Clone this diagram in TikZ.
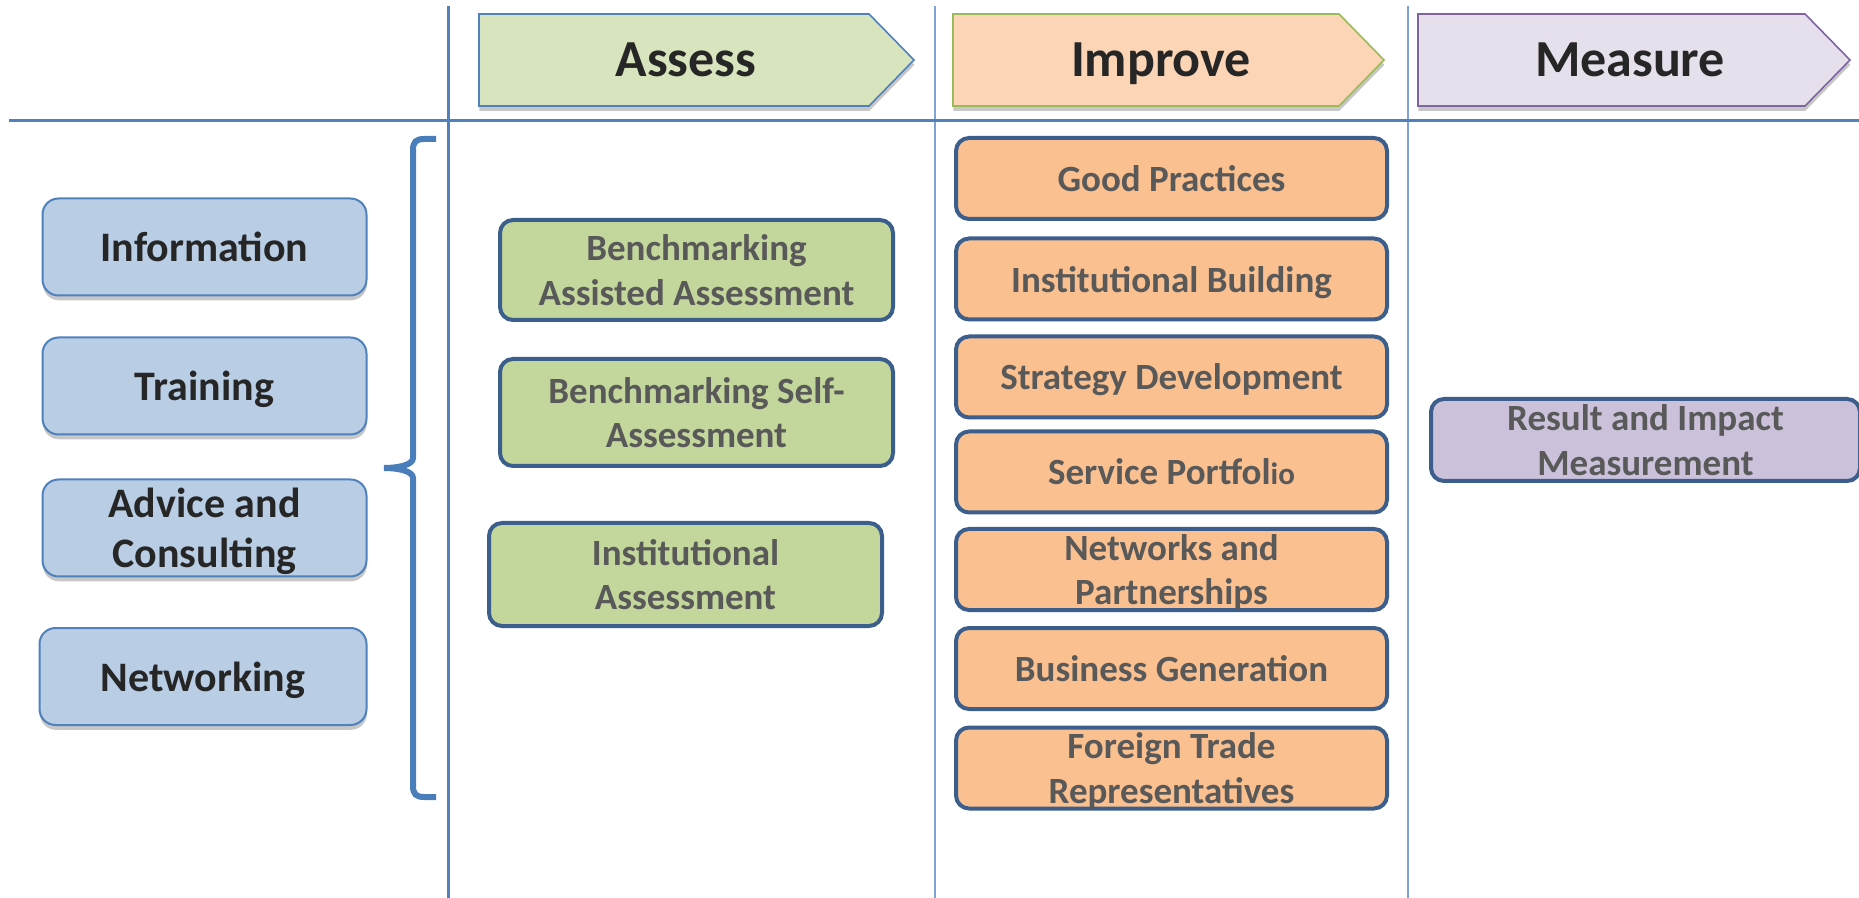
\documentclass[tikz,border=0pt]{standalone}
\usepackage{fontspec}
\setmainfont{Carlito}
\usetikzlibrary{shadows}

\definecolor{ruleblue}{HTML}{4F81BD}
\definecolor{rulethin}{HTML}{7FA3D3}
\definecolor{bracecol}{HTML}{4A7EBB}
\definecolor{boxline}{HTML}{3B5E8C}
\definecolor{darktext}{HTML}{262626}
\definecolor{graytext}{HTML}{595959}
\definecolor{assessfill}{HTML}{D8E4BD}
\definecolor{improvefill}{HTML}{FBD5B5}
\definecolor{improveline}{HTML}{9BBB59}
\definecolor{measurefill}{HTML}{E5E0EC}
\definecolor{measureline}{HTML}{8064A2}
\definecolor{bluefill}{HTML}{B9CDE5}
\definecolor{greenfill}{HTML}{C3D69B}
\definecolor{orangefill}{HTML}{FAC090}
\definecolor{purplefill}{HTML}{CCC1DA}

\begin{document}
\begin{tikzpicture}[x=0.5pt,y=-0.5pt,
  softshadow/.style={drop shadow={shadow xshift=0.2pt,shadow yshift=-2.4pt,opacity=0.22,fill=black}},
  rulethick/.style={draw=ruleblue,line width=1.5pt},
  rulefine/.style={draw=rulethin,line width=0.6pt},
  headshape/.style={line width=0.8pt,softshadow},
  headtext/.style={anchor=base,text=darktext,font={\bfseries\fontsize{26}{31}\selectfont}},
  bluebox/.style={draw=ruleblue,fill=bluefill,line width=1pt,rounded corners=8pt,
    minimum width=162pt,minimum height=48.5pt,inner sep=0pt,align=center,text depth=0pt,
    text=darktext,font={\bfseries\fontsize{21}{25}\selectfont},softshadow},
  stepbox/.style={draw=boxline,line width=2pt,rounded corners=6.5pt,inner sep=0pt,
    align=center,text depth=0pt,text=graytext,font={\bfseries\fontsize{18.5}{22.2}\selectfont}},
  greenbox/.style={stepbox,fill=greenfill,minimum width=196.5pt},
  orangebox/.style={stepbox,fill=orangefill,minimum width=215.5pt,minimum height=40.5pt},
  purplebox/.style={stepbox,fill=purplefill,minimum width=214.5pt,minimum height=41pt},
  bracket/.style={draw=bracecol,line width=3pt}
]
\useasboundingbox (0,0) rectangle (1859,898);

% grid rules
\draw[rulefine] (935,6) -- (935,898);
\draw[rulefine] (1408,6) -- (1408,898);
\draw[rulethick] (9,121) -- (1859,121);
\draw[rulethick] (448,6) -- (448,898);

% phase arrows in the header row
\path[headshape,fill=assessfill,draw=ruleblue]
  (479,14) -- (869,14) -- (914,60) -- (869,106) -- (479,106) -- cycle;
\node[headtext] (assess) at (686,77) {Assess};
\path[headshape,fill=improvefill,draw=improveline]
  (953,14) -- (1339,14) -- (1384,60) -- (1339,106) -- (953,106) -- cycle;
\node[headtext] (improve) at (1161,77) {Improve};
\path[headshape,fill=measurefill,draw=measureline]
  (1418,14) -- (1805,14) -- (1850,60) -- (1805,106) -- (1418,106) -- cycle;
\node[headtext] (measure) at (1630,77) {Measure};

% instruments on the left
\node[bluebox] (info) at (204.5,247) {Information};
\node[bluebox] (training) at (204.5,386) {Training};
\node[bluebox] (advice) at (204.5,528) {Advice and\\Consulting};
\node[bluebox,minimum width=163.5pt] (networking) at (203,676.5) {Networking};

% bracket grouping the instruments
\draw[bracket] (436,139) -- (424,139)
  .. controls (416,139) and (413,142) .. (413,150) -- (413,458)
  .. controls (413,465) and (398,468) .. (384,468)
  .. controls (398,468) and (413,471) .. (413,478) -- (413,786)
  .. controls (413,794) and (416,797) .. (424,797) -- (436,797);

% assess column
\node[greenbox,minimum height=50pt] (bsa) at (696.5,270) {Benchmarking\\Assisted Assessment};
\node[greenbox,minimum height=53.5pt] (bself) at (696.5,412.5) {Benchmarking Self-\\Assessment};
\node[greenbox,minimum height=51.5pt] (inst) at (685.5,574.5) {Institutional\\Assessment};

% improve column
\node[orangebox] (good) at (1171.5,178.5) {Good Practices};
\node[orangebox] (build) at (1171.5,279) {Institutional Building};
\node[orangebox] (strategy) at (1171.5,377) {Strategy Development};
\node[orangebox] (service) at (1171.5,472) {Service Portfol{\fontsize{15.5}{18}\selectfont io}};
\node[orangebox] (networks) at (1171.5,569.5) {Networks and\\Partnerships};
\node[orangebox] (business) at (1171.5,668.5) {Business Generation};
\node[orangebox] (foreign) at (1171.5,768) {Foreign Trade\\Representatives};

% measure column
\node[purplebox] (result) at (1645.5,440) {Result and Impact\\Measurement};
\end{tikzpicture}
\end{document}
